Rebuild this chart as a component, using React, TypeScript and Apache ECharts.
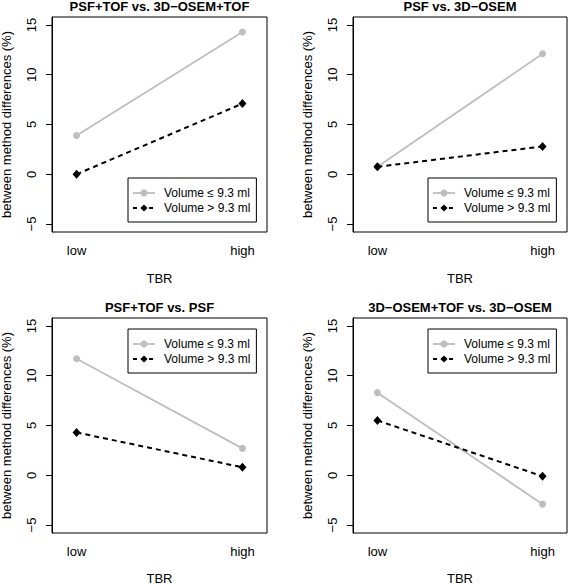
import React, { useEffect, useRef } from 'react';
import * as echarts from 'echarts';

// ---- data ----
const TBR_LEVELS = ['low', 'high'];
const TBR_POS = [1, 2];
const Y_TICKS = [-5, 0, 5, 10, 15];
const PANEL_TITLES = [
  'PSF+TOF vs. 3D\u2212OSEM+TOF',
  'PSF vs. 3D\u2212OSEM',
  'PSF+TOF vs. PSF',
  '3D\u2212OSEM+TOF vs. 3D\u2212OSEM',
];
const SMALL_LABEL = 'Volume \u2264 9.3 ml';
const LARGE_LABEL = 'Volume > 9.3 ml';

const psfTofVsOsemTofSmall = [3.9, 14.3];
const psfTofVsOsemTofLarge = [0.0, 7.1];
const psfVsOsemSmall = [0.75, 12.1];
const psfVsOsemLarge = [0.75, 2.8];
const psfTofVsPsfSmall = [11.7, 2.7];
const psfTofVsPsfLarge = [4.3, 0.8];
const osemTofVsOsemSmall = [8.3, -2.9];
const osemTofVsOsemLarge = [5.5, -0.1];

const SMALL_SETS = [psfTofVsOsemTofSmall, psfVsOsemSmall, psfTofVsPsfSmall, osemTofVsOsemSmall];
const LARGE_SETS = [psfTofVsOsemTofLarge, psfVsOsemLarge, psfTofVsPsfLarge, osemTofVsOsemLarge];

// ---- layout ----
const FONT = '"Liberation Sans", Arial, Helvetica, sans-serif';
const GRAY = '#bebebe';
const PANELS = [
  { left: 52, top: 17, width: 215, height: 215, legendLeft: 128, legendTop: 178, nameGap: 40 },
  { left: 353, top: 17, width: 214, height: 215, legendLeft: 428, legendTop: 178, nameGap: 40 },
  { left: 52, top: 318, width: 215, height: 215, legendLeft: 128, legendTop: 329, nameGap: 39 },
  { left: 353, top: 318, width: 214, height: 215, legendLeft: 428, legendTop: 329, nameGap: 39 },
];

function buildOption() {
  const grid: any[] = [];
  const xAxis: any[] = [];
  const yAxis: any[] = [];
  const series: any[] = [];
  const legend: any[] = [];
  const title: any[] = [];

  PANELS.forEach((p, i) => {
    grid.push({
      left: p.left,
      top: p.top,
      width: p.width,
      height: p.height,
      show: true,
      borderColor: '#000',
      borderWidth: 1,
      backgroundColor: 'transparent',
      containLabel: false,
      outerBoundsMode: 'none',
    });
    title.push({
      text: PANEL_TITLES[i],
      left: p.left + p.width / 2,
      top: p.top - 11,
      textAlign: 'center',
      textVerticalAlign: 'middle',
      padding: 0,
      textStyle: { fontSize: 13, fontWeight: 'bold', color: '#000', fontFamily: FONT, lineHeight: 12 },
    });
    xAxis.push({
      type: 'value',
      gridIndex: i,
      min: 0.852,
      max: 2.148,
      name: 'TBR',
      nameLocation: 'middle',
      nameGap: p.nameGap,
      nameTextStyle: { fontSize: 13, color: '#000', fontFamily: FONT, lineHeight: 12 },
      axisLine: { show: false },
      axisTick: { show: false },
      splitLine: { show: false },
      axisLabel: {
        customValues: TBR_POS,
        formatter: (v: number) => TBR_LEVELS[TBR_POS.indexOf(v)] ?? '',
        margin: 12,
        fontSize: 13,
        color: '#000',
        fontFamily: FONT,
      },
    });
    yAxis.push({
      type: 'value',
      gridIndex: i,
      min: -5.8,
      max: 15.8,
      name: 'between method differences (%)',
      nameLocation: 'middle',
      nameGap: 39,
      nameTextStyle: { fontSize: 13, color: '#000', fontFamily: FONT },
      axisLine: { show: true, onZero: false, lineStyle: { color: '#000', width: 1 } },
      axisTick: { show: true, length: 6, customValues: Y_TICKS, lineStyle: { color: '#000', width: 1 } },
      axisLabel: {
        customValues: Y_TICKS,
        formatter: (v: number) => String(v).replace('-', '\u2212'),
        rotate: 90,
        margin: 14,
        fontSize: 13,
        color: '#000',
        fontFamily: FONT,
      },
      splitLine: { show: false },
    });
    series.push({
      type: 'line',
      name: SMALL_LABEL,
      xAxisIndex: i,
      yAxisIndex: i,
      data: SMALL_SETS[i].map((v, j) => [TBR_POS[j], v]),
      symbol: 'circle',
      symbolSize: 7,
      itemStyle: { color: GRAY },
      lineStyle: { color: GRAY, width: 1.8, type: 'solid' },
      z: 2,
    });
    series.push({
      type: 'line',
      name: LARGE_LABEL,
      xAxisIndex: i,
      yAxisIndex: i,
      data: LARGE_SETS[i].map((v, j) => [TBR_POS[j], v]),
      symbol: 'diamond',
      symbolSize: [8, 9],
      itemStyle: { color: '#000' },
      lineStyle: { color: '#000', width: 2, type: [5, 4] },
      z: 3,
    });
    legend.push({
      orient: 'vertical',
      left: p.legendLeft,
      top: p.legendTop,
      data: [
        { name: SMALL_LABEL, itemStyle: { color: GRAY }, lineStyle: { color: GRAY, width: 1.8, type: 'solid' } },
        { name: LARGE_LABEL, itemStyle: { color: '#000' }, lineStyle: { color: '#000', width: 2, type: [4, 4] } },
      ],
      itemWidth: 22,
      itemHeight: 9,
      itemGap: 0,
      padding: [7.5, 6, 6.5, 4],
      borderColor: '#000',
      borderWidth: 1,
      borderRadius: 0,
      selectedMode: false,
      textStyle: { fontSize: 12, color: '#000', fontFamily: FONT, lineHeight: 15, padding: [0, 0, 0, 4] },
    });
  });

  return {
    animation: false,
    backgroundColor: '#fff',
    textStyle: { fontFamily: FONT },
    title,
    grid,
    xAxis,
    yAxis,
    series,
    legend,
  };
}

export default function App() {
  const ref = useRef<HTMLDivElement>(null);
  useEffect(() => {
    if (!ref.current) return;
    const chart = echarts.init(ref.current, null, { renderer: 'svg' });
    chart.setOption(buildOption() as any);
    return () => chart.dispose();
  }, []);
  return (
    <div
      ref={ref}
      style={{ position: 'absolute', left: 0, top: 0, width: 568, height: 584, background: '#fff' }}
    />
  );
}
